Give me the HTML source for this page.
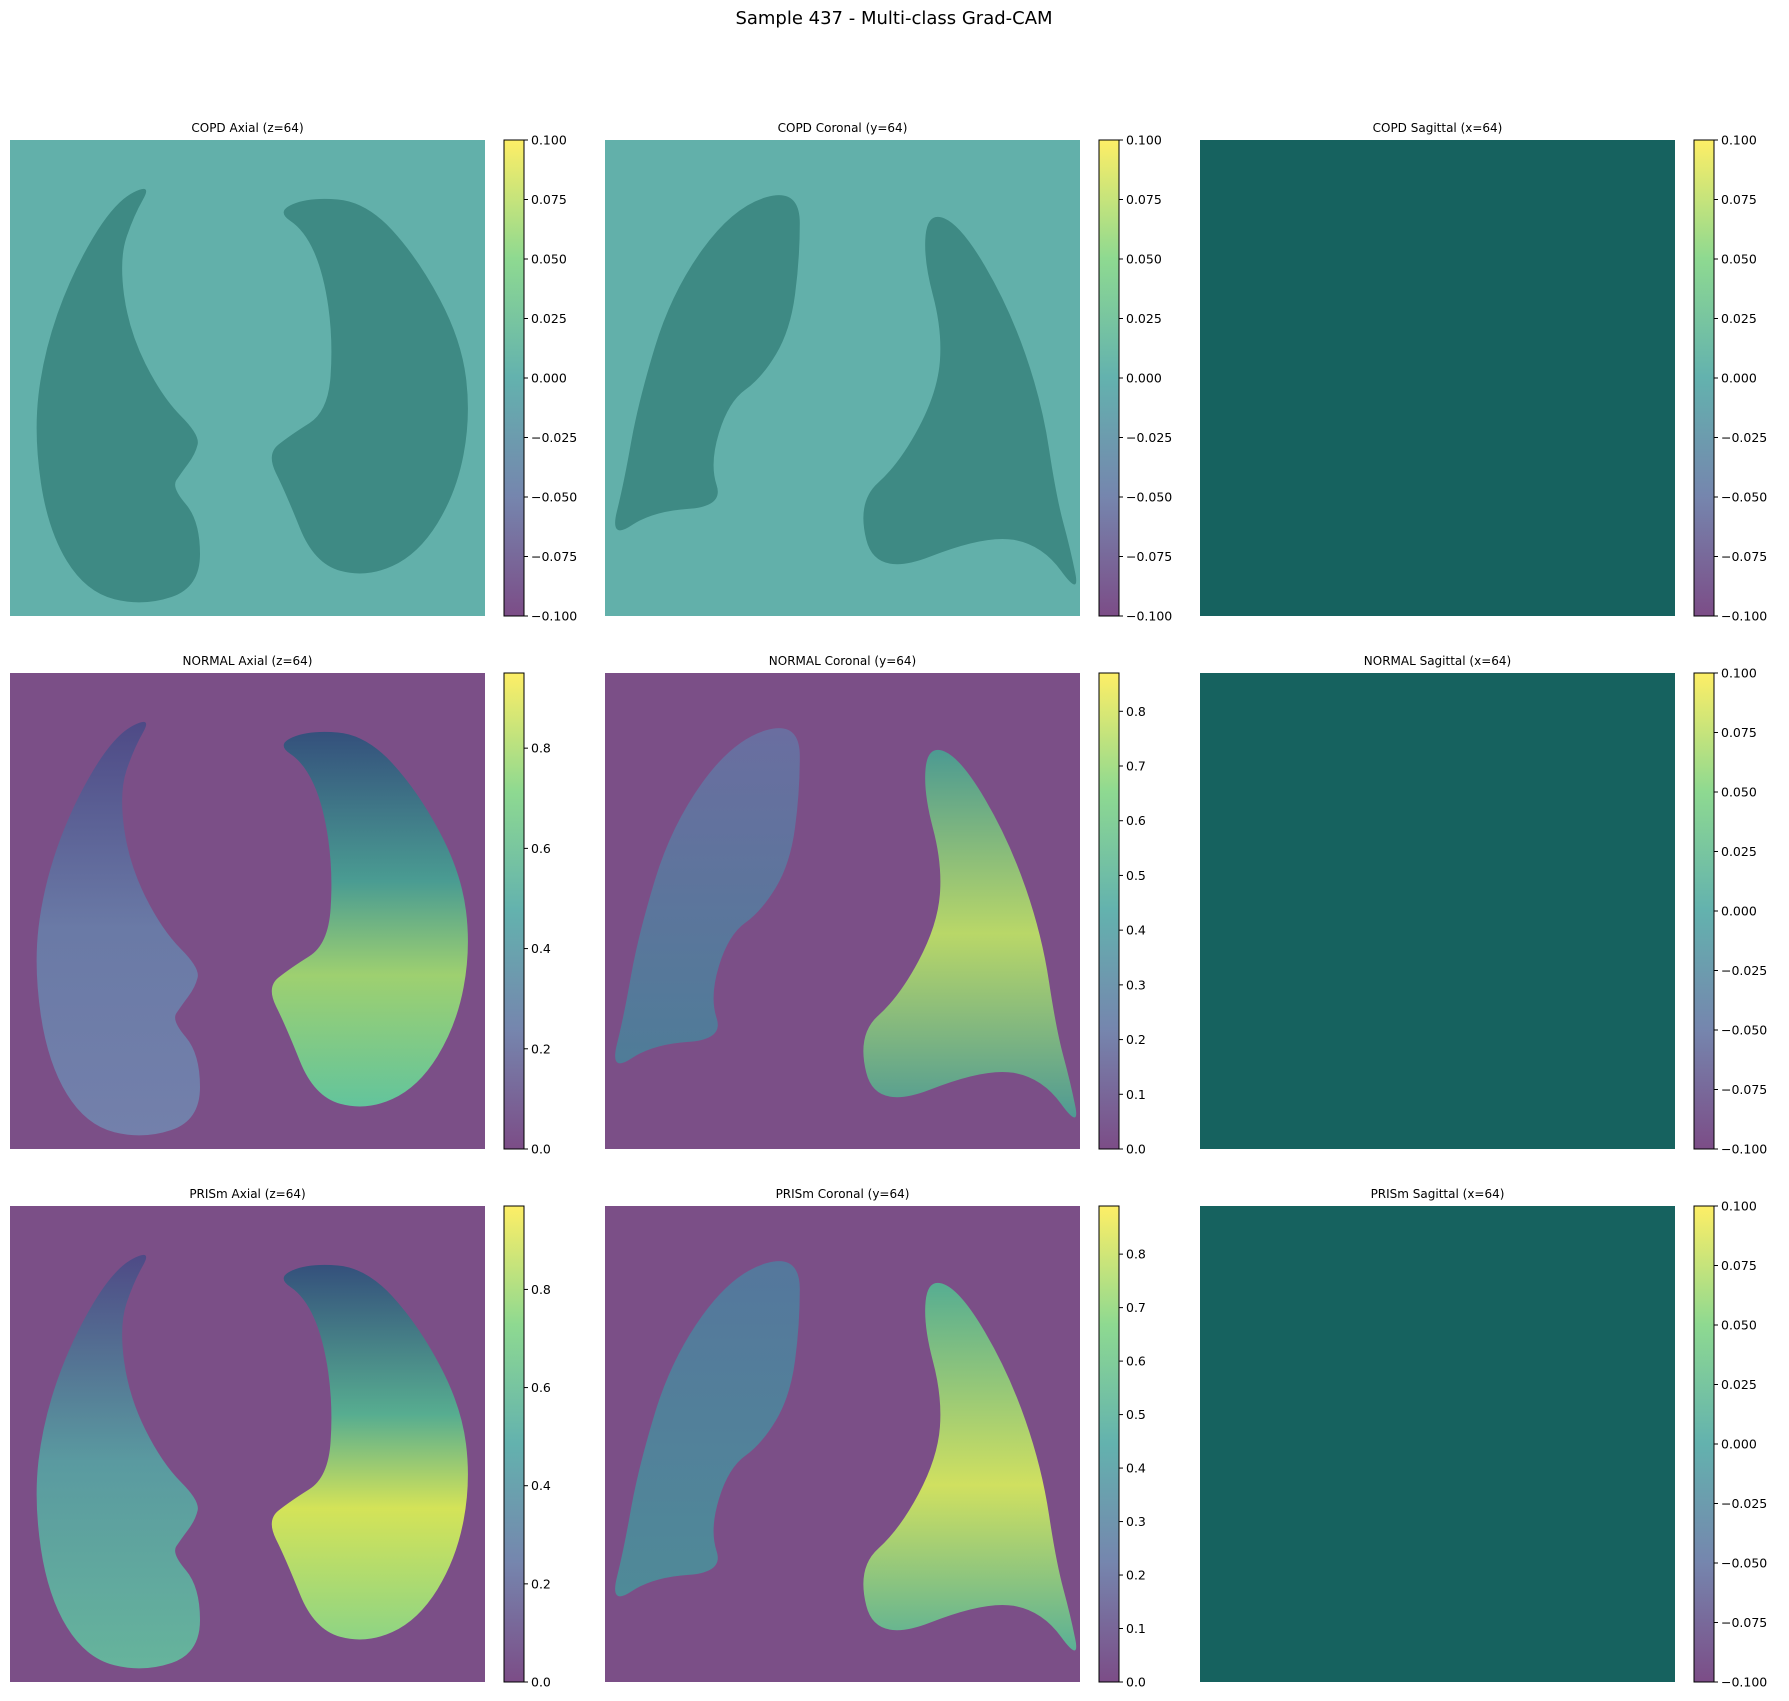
<!DOCTYPE html>
<html><head><meta charset="utf-8">
<style>
body{margin:0;background:#fff;}
svg{display:block;font-family:"DejaVu Sans","Liberation Sans",sans-serif;}
</style></head>
<body>
<svg id="fig" width="1789" height="1701" viewBox="0 0 1789 1701">
<defs>
<linearGradient id="viridis" x1="0" y1="1" x2="0" y2="0">
<stop offset="0" stop-color="#440154"/><stop offset="0.25" stop-color="#3b528b"/><stop offset="0.5" stop-color="#21918c"/><stop offset="0.75" stop-color="#5ec962"/><stop offset="1" stop-color="#fde725"/>
</linearGradient>
<linearGradient id="nAxL" x1="0" y1="0" x2="0" y2="1"><stop offset="0" stop-color="#4e4a86"/><stop offset="0.5" stop-color="#6a7aa6"/><stop offset="1" stop-color="#7380ab"/></linearGradient>
<linearGradient id="nAxR" x1="0" y1="0" x2="0" y2="1"><stop offset="0" stop-color="#34507c"/><stop offset="0.4" stop-color="#4a9c92"/><stop offset="0.65" stop-color="#9ed070"/><stop offset="1" stop-color="#63c49c"/></linearGradient>
<linearGradient id="pAxL" x1="0" y1="0" x2="0" y2="1"><stop offset="0" stop-color="#4e4a86"/><stop offset="0.5" stop-color="#5a9aa0"/><stop offset="1" stop-color="#66b49c"/></linearGradient>
<linearGradient id="pAxR" x1="0" y1="0" x2="0" y2="1"><stop offset="0" stop-color="#34507c"/><stop offset="0.4" stop-color="#57ad90"/><stop offset="0.65" stop-color="#d4e358"/><stop offset="1" stop-color="#8ed484"/></linearGradient>
<linearGradient id="nCoL" x1="0" y1="0" x2="0" y2="1"><stop offset="0" stop-color="#6a6ea0"/><stop offset="1" stop-color="#4f7c98"/></linearGradient>
<linearGradient id="nCoR" x1="0" y1="0" x2="0" y2="1"><stop offset="0" stop-color="#4c9a92"/><stop offset="0.5" stop-color="#b9d768"/><stop offset="1" stop-color="#4f9a94"/></linearGradient>
<linearGradient id="pCoL" x1="0" y1="0" x2="0" y2="1"><stop offset="0" stop-color="#55779c"/><stop offset="1" stop-color="#4f8a98"/></linearGradient>
<linearGradient id="pCoR" x1="0" y1="0" x2="0" y2="1"><stop offset="0" stop-color="#56ad92"/><stop offset="0.55" stop-color="#d0e060"/><stop offset="1" stop-color="#5ab096"/></linearGradient>
</defs>
<text x="894" y="24" text-anchor="middle" font-size="18" fill="#000">Sample 437 - Multi-class Grad-CAM</text>
<g id="panels"></g>
</svg>
<script>
const classes = ["COPD","NORMAL","PRISm"];
const views = ["Axial (z=64)","Coronal (y=64)","Sagittal (x=64)"];
const cbTicks = [
 [["0.100","0.075","0.050","0.025","0.000","\u22120.025","\u22120.050","\u22120.075","\u22120.100"],["0.100","0.075","0.050","0.025","0.000","\u22120.025","\u22120.050","\u22120.075","\u22120.100"],["0.100","0.075","0.050","0.025","0.000","\u22120.025","\u22120.050","\u22120.075","\u22120.100"]],
 [["0.8","0.6","0.4","0.2","0.0"],["0.8","0.7","0.6","0.5","0.4","0.3","0.2","0.1","0.0"],["0.100","0.075","0.050","0.025","0.000","\u22120.025","\u22120.050","\u22120.075","\u22120.100"]],
 [["0.8","0.6","0.4","0.2","0.0"],["0.8","0.7","0.6","0.5","0.4","0.3","0.2","0.1","0.0"],["0.100","0.075","0.050","0.025","0.000","\u22120.025","\u22120.050","\u22120.075","\u22120.100"]]
];
const cbMax = [[0.1,0.1,0.1],[0.95,0.87,0.1],[0.97,0.89,0.1]];
const cbMin = [[-0.1,-0.1,-0.1],[0,0,-0.1],[0,0,-0.1]];
const cbVals = [
 [[0.1,0.075,0.05,0.025,0,-0.025,-0.05,-0.075,-0.1],[0.1,0.075,0.05,0.025,0,-0.025,-0.05,-0.075,-0.1],[0.1,0.075,0.05,0.025,0,-0.025,-0.05,-0.075,-0.1]],
 [[0.8,0.6,0.4,0.2,0],[0.8,0.7,0.6,0.5,0.4,0.3,0.2,0.1,0],[0.1,0.075,0.05,0.025,0,-0.025,-0.05,-0.075,-0.1]],
 [[0.8,0.6,0.4,0.2,0],[0.8,0.7,0.6,0.5,0.4,0.3,0.2,0.1,0],[0.1,0.075,0.05,0.025,0,-0.025,-0.05,-0.075,-0.1]]
];
const axL=[[.30,.09],[.22,.13],[.13,.28],[.07,.45],[.05,.62],[.08,.82],[.16,.95],[.28,.98],[.40,.94],[.40,.80],[.34,.73],[.36,.70],[.39,.66],[.40,.62],[.32,.54],[.25,.40],[.23,.25],[.26,.16]];
const axR=[[.56,.15],[.63,.12],[.75,.13],[.86,.25],[.95,.42],[.97,.58],[.94,.74],[.86,.87],[.75,.92],[.64,.89],[.58,.74],[.54,.66],[.59,.62],[.67,.57],[.68,.42],[.66,.28],[.62,.19]];
const coL=[[.41,.10],[.27,.14],[.14,.32],[.07,.55],[.04,.72],[.01,.84],[.10,.78],[.25,.77],[.22,.68],[.26,.55],[.33,.50],[.39,.40],[.41,.25]];
const coR=[[.68,.15],[.75,.18],[.85,.35],[.92,.55],[.95,.75],[.98,.86],[1.0,.96],[.92,.85],[.80,.83],[.57,.92],[.53,.76],[.62,.68],[.70,.53],[.71,.40],[.67,.25]];
const colX=[10,605,1200], rowY=[140,673,1206], W=475, H=476, cbOff=494, cbW=20;
const bg=[["#62b0aa","#62b0aa","#16625f"],["#7b4f87","#7b4f87","#16625f"],["#7b4f87","#7b4f87","#16625f"]];
const fills=[[["#3e8a84","#3e8a84"],["#3e8a84","#3e8a84"]],[["url(#nAxL)","url(#nAxR)"],["url(#nCoL)","url(#nCoR)"]],[["url(#pAxL)","url(#pAxR)"],["url(#pCoL)","url(#pCoR)"]]];
const NS="http://www.w3.org/2000/svg";
const root=document.getElementById('panels');
function mk(t,a,p){const e=document.createElementNS(NS,t);for(const k in a)e.setAttribute(k,a[k]);(p||root).appendChild(e);return e;}
function smooth(pts,x0,y0){
 const P=pts.map(p=>[x0+p[0]*W,y0+p[1]*H]);const n=P.length;
 const mid=(a,b)=>[(a[0]+b[0])/2,(a[1]+b[1])/2];
 let m=mid(P[n-1],P[0]);let d="M"+m[0].toFixed(1)+","+m[1].toFixed(1);
 for(let i=0;i<n;i++){const q=mid(P[i],P[(i+1)%n]);d+=" Q"+P[i][0].toFixed(1)+","+P[i][1].toFixed(1)+" "+q[0].toFixed(1)+","+q[1].toFixed(1);}
 return d+"Z";
}
for(let r=0;r<3;r++)for(let c=0;c<3;c++){
 const x0=colX[c],y0=rowY[r];
 const g=mk('g',{});
 
 
 const t=mk('text',{x:x0+W/2,y:y0-8,'text-anchor':'middle','font-size':'12',fill:'#000'},g);
 t.textContent=classes[r]+" "+views[c];
 
 
 const im=mk('rect',{x:x0,y:y0,width:W,height:H,fill:bg[r][c]},g);
 
 
 if(c<2){
  const shapes=c===0?[axL,axR]:[coL,coR];
  shapes.forEach((s,i)=>{
   const p=mk('path',{d:smooth(s,x0,y0),fill:fills[r][c][i],'stroke':'none'},g);
   
   
  });
 }
 const cx=x0+cbOff;
 const cb=mk('rect',{x:cx,y:y0,width:cbW,height:H,fill:'url(#viridis)','fill-opacity':'0.7',stroke:'#000','stroke-width':'1'},g);
 
 
 const mn=cbMin[r][c],mx=cbMax[r][c];
 const yv=v=>y0+H-(v-mn)/(mx-mn)*H;
 cbVals[r][c].forEach((v,i)=>{
  const yy=yv(v);
  mk('line',{x1:cx+cbW,x2:cx+cbW+4,y1:yy,y2:yy,stroke:'#000','stroke-width':'1'},g);
  const tt=mk('text',{x:cx+cbW+7,y:yy+4.5,'font-size':'12.5',fill:'#000'},g);
  tt.textContent=cbTicks[r][c][i];
  
  
 });
}
</script>
</body></html>
